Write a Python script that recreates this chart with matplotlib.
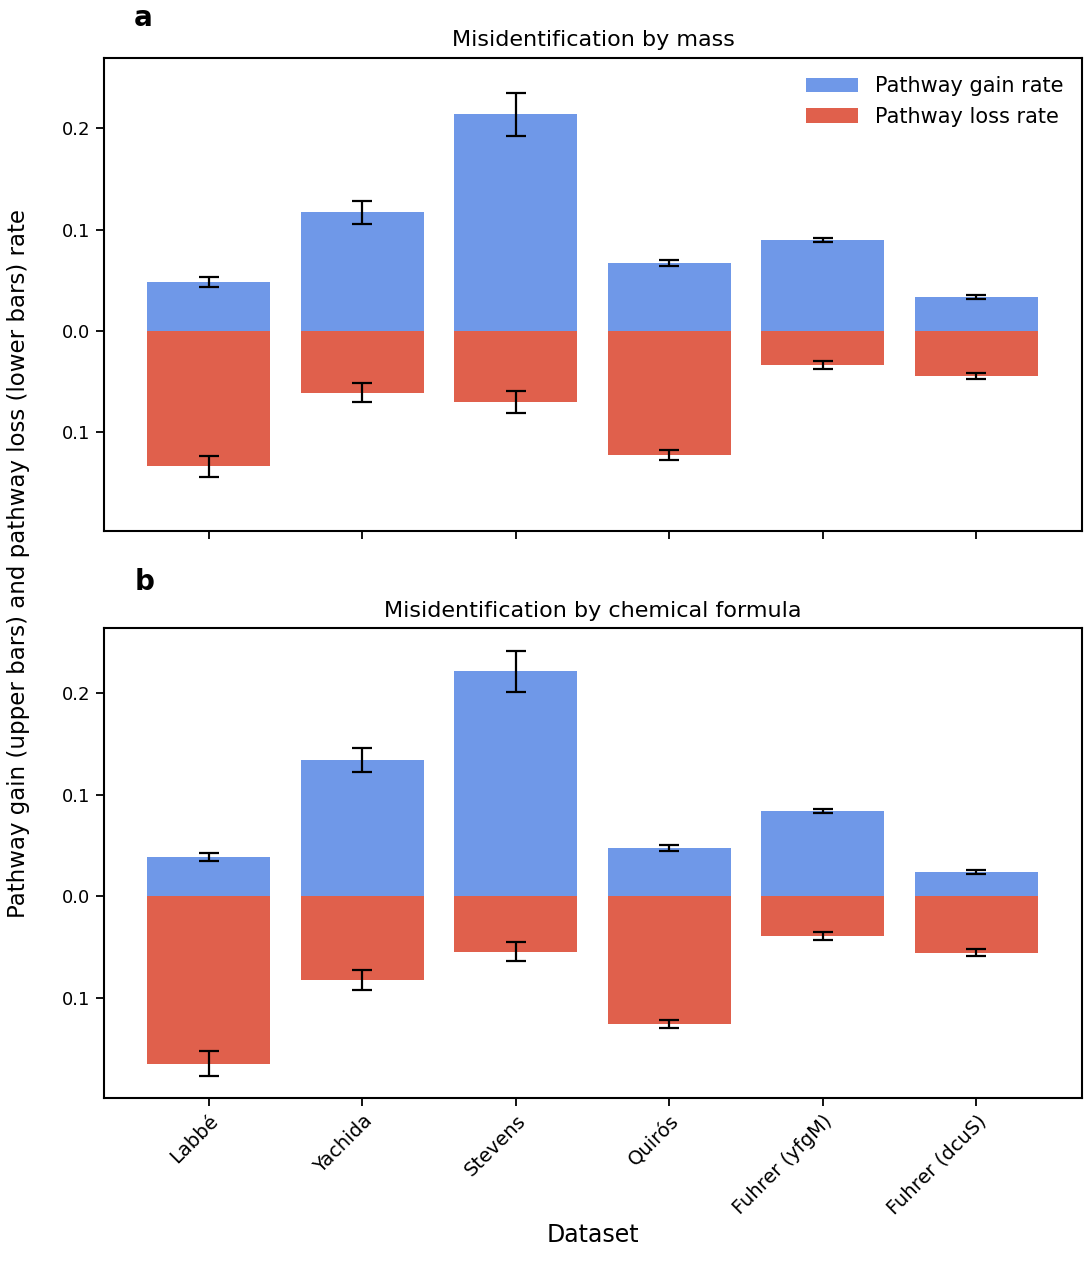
import matplotlib
matplotlib.use("Agg")
import matplotlib.pyplot as plt
import numpy as np

datasets = ["Labbé", "Yachida", "Stevens", "Quirós", "Fuhrer (yfgM)", "Fuhrer (dcuS)"]
gain_a = [0.048, 0.117, 0.214, 0.067, 0.090, 0.033]
gain_a_err = [0.005, 0.011, 0.021, 0.003, 0.002, 0.002]
loss_a = [0.134, 0.061, 0.070, 0.123, 0.034, 0.045]
loss_a_err = [0.010, 0.009, 0.011, 0.005, 0.004, 0.003]
gain_b = [0.039, 0.134, 0.221, 0.048, 0.084, 0.024]
gain_b_err = [0.004, 0.012, 0.020, 0.003, 0.002, 0.002]
loss_b = [0.164, 0.082, 0.054, 0.125, 0.039, 0.055]
loss_b_err = [0.012, 0.010, 0.009, 0.004, 0.004, 0.003]

blue = "#6f98e8"
red = "#e0604c"

fig = plt.figure(figsize=(10.91, 12.8), dpi=100)
ax1 = fig.add_axes([0.095, 0.585, 0.897, 0.370])
ax2 = fig.add_axes([0.095, 0.142, 0.897, 0.367])
x = np.arange(len(datasets))

def panel(ax, g, ge, l, le, title, ylim):
    ax.bar(x, g, width=0.8, color=blue, label="Pathway gain rate")
    ax.bar(x, -np.array(l), width=0.8, color=red, label="Pathway loss rate")
    ax.errorbar(x, g, yerr=ge, fmt="none", ecolor="black", capsize=7, elinewidth=1.6, capthick=1.6)
    ax.errorbar(x, -np.array(l), yerr=le, fmt="none", ecolor="black", capsize=7, elinewidth=1.6, capthick=1.6)
    ax.set_xlim(-0.685, 5.69)
    ax.set_ylim(*ylim)
    ax.set_yticks([-0.1, 0.0, 0.1, 0.2])
    ax.set_yticklabels(["0.1", "0.0", "0.1", "0.2"])
    ax.set_xticks(x)
    ax.set_title(title, fontsize=16, pad=8)
    ax.tick_params(labelsize=13, length=6, width=1.3)
    for s in ax.spines.values():
        s.set_linewidth(1.5)

panel(ax1, gain_a, gain_a_err, loss_a, loss_a_err, "Misidentification by mass", (-0.198, 0.27))
panel(ax2, gain_b, gain_b_err, loss_b, loss_b_err, "Misidentification by chemical formula", (-0.198, 0.263))
ax1.set_xticklabels([])
ax2.set_xticklabels(datasets, rotation=45, ha="right", rotation_mode="anchor", fontsize=14)
ax2.set_xlabel("Dataset", fontsize=17)
ax1.legend(loc="upper right", fontsize=15, frameon=False, handlelength=2.5)
fig.text(0.123, 0.986, "a", fontsize=20, fontweight="bold", va="center")
fig.text(0.123, 0.545, "b", fontsize=20, fontweight="bold", va="center")
fig.text(0.006, 0.56, "Pathway gain (upper bars) and pathway loss (lower bars) rate",
         rotation=90, va="center", ha="left", fontsize=16.5)
fig.savefig("out.png", dpi=100)
